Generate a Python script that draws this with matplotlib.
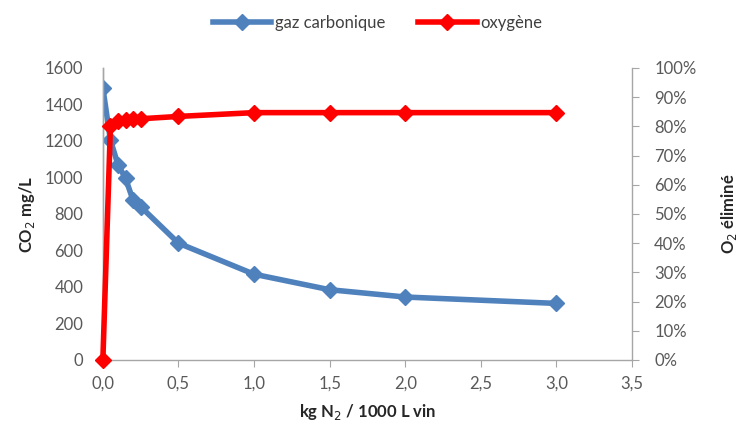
import matplotlib
matplotlib.use("Agg")
import matplotlib.pyplot as plt
from matplotlib.ticker import FuncFormatter, MultipleLocator

plt.rcParams['font.family'] = ['Lato', 'DejaVu Sans']

n2_kg = [0.0, 0.05, 0.1, 0.15, 0.2, 0.25, 0.5, 1.0, 1.5, 2.0, 3.0]
co2_mgL = [1490, 1205, 1070, 995, 875, 840, 640, 470, 385, 345, 310]
o2_pct = [0, 80, 82, 82.3, 82.5, 82.6, 83.4, 84.7, 84.7, 84.7, 84.7]

blue = '#4F81BD'
red = '#FF0000'
grey = '#595959'
spine = '#A6A6A6'

fig = plt.figure(figsize=(7.4, 4.32), dpi=100)
ax = fig.add_axes([0.139, 0.1667, 0.715, 0.676])
ax2 = ax.twinx()

l1, = ax.plot(n2_kg, co2_mgL, color=blue, lw=4, marker='D', ms=8,
              markerfacecolor=blue, markeredgecolor=blue, label='gaz carbonique',
              solid_joinstyle='round', zorder=3)
l2, = ax2.plot(n2_kg, o2_pct, color=red, lw=4, marker='D', ms=8,
               markerfacecolor=red, markeredgecolor=red, label='oxygène',
               solid_joinstyle='round', zorder=3, clip_on=False)

ax.set_xlim(0, 3.5)
ax.set_ylim(0, 1600)
ax2.set_ylim(0, 100)
ax.xaxis.set_major_locator(MultipleLocator(0.5))
ax.yaxis.set_major_locator(MultipleLocator(200))
ax2.yaxis.set_major_locator(MultipleLocator(10))
ax.xaxis.set_major_formatter(FuncFormatter(lambda v, p: f"{v:.1f}".replace('.', ',')))
ax2.yaxis.set_major_formatter(FuncFormatter(lambda v, p: f"{v:.0f}%"))

for a in (ax, ax2):
    a.spines['top'].set_visible(False)
    for s in ('left', 'right', 'bottom'):
        a.spines[s].set_color(spine)
        a.spines[s].set_linewidth(1.0)
ax.spines['right'].set_visible(False)
ax2.spines['bottom'].set_visible(False)

ax.tick_params(axis='x', colors=spine, labelcolor=grey, labelsize=12, length=5, direction='out', pad=6)
ax.tick_params(axis='y', length=0, labelcolor=grey, labelsize=12, pad=14)
ax2.tick_params(axis='y', colors=spine, labelcolor=grey, labelsize=12, length=5, direction='out', pad=11)

ax.set_xlabel('kg N$_2$ / 1000 L vin', fontsize=12, fontweight='bold', color='#262626', labelpad=8)
ax.set_ylabel('CO$_2$ mg/L', fontsize=12, fontweight='bold', color='#262626', labelpad=6)
ax2.set_ylabel('O$_2$ éliminé', fontsize=12, fontweight='bold', color='#262626', labelpad=16)

fig.legend(handles=[l1, l2], loc='upper center', bbox_to_anchor=(0.51, 1.0), ncol=2,
           frameon=False, fontsize=12, labelcolor='#404040', handlelength=3.5,
           columnspacing=2.0, handletextpad=0.2)

fig.savefig('out.png', dpi=100)
